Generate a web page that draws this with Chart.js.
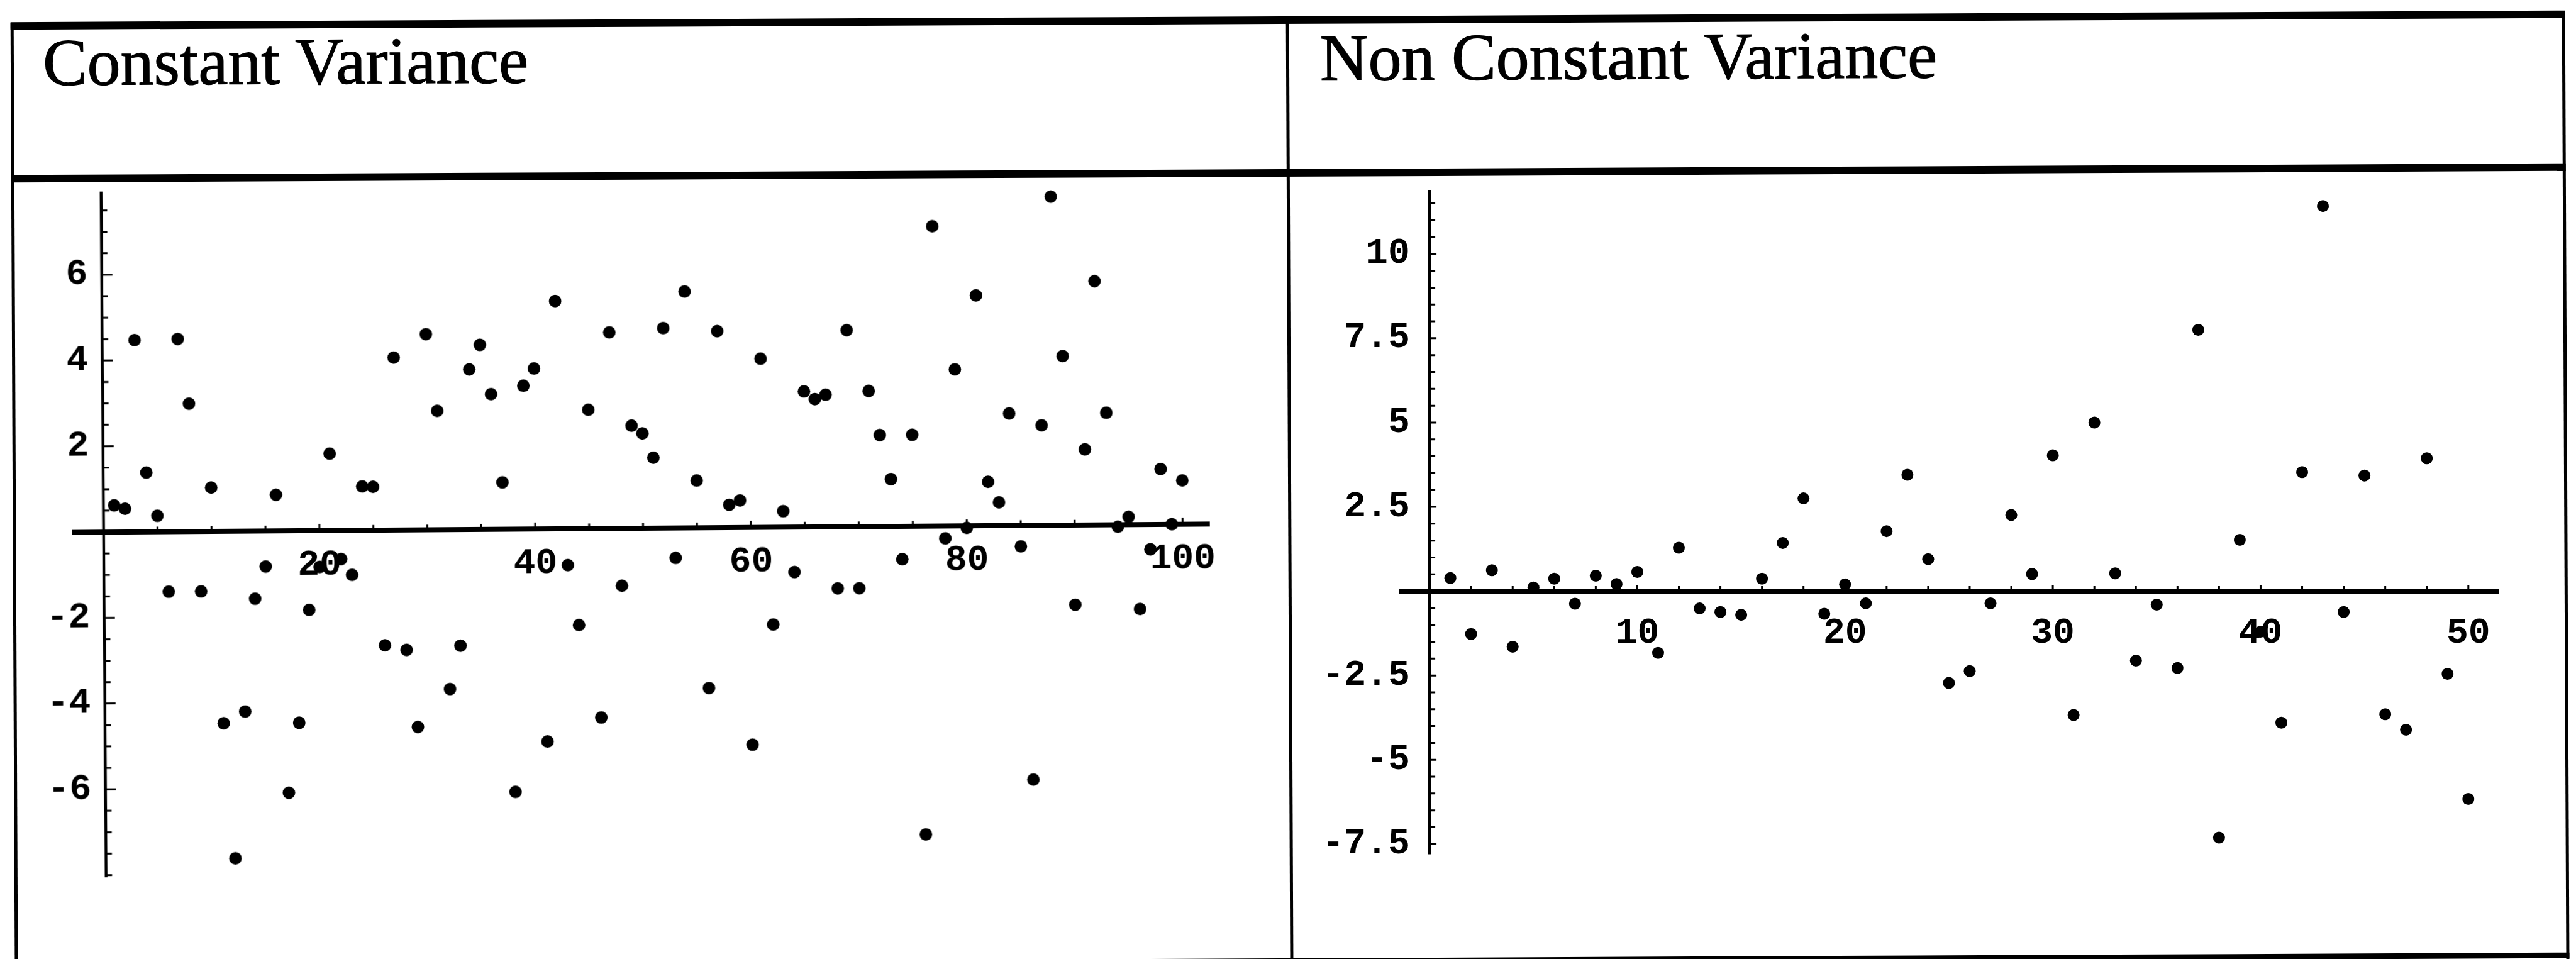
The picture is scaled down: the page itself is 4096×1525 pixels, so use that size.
<!DOCTYPE html>
<html>
<head>
<meta charset="utf-8">
<script src="https://cdn.jsdelivr.net/npm/chart.js@4/dist/chart.umd.min.js"></script>
<style>
  html, body { margin: 0; padding: 0; background: #fff; }
  body { width: 4096px; height: 1525px; position: relative; overflow: hidden; }
  #frame { position: absolute; left: 0; top: 0; width: 4096px; height: 1525px; transform: rotate(-0.26deg); }
  .rule { position: absolute; background: #000; }
  .title { position: absolute; font-family: "Liberation Serif", "Times New Roman", serif; font-size: 106px; line-height: 1; color: #000; white-space: nowrap; -webkit-text-stroke: 1.2px #000; }
  canvas { position: absolute; }
  #constChart { left: 0; top: 250px; transform: rotate(-0.42deg); }
  #nonConstChart { left: 2070px; top: 250px; }
</style>
</head>
<body>
<div id="frame">
  <div class="rule" style="left:20px; top:26px; width:4062px; height:12px"></div>
  <div class="rule" style="left:20px; top:269px; width:4062px; height:12px"></div>
  <div class="rule" style="left:20px; top:27px; width:5px; height:1510px"></div>
  <div class="rule" style="left:2048px; top:27px; width:5px; height:1510px"></div>
  <div class="rule" style="left:4077px; top:27px; width:5px; height:1510px"></div>
  <div class="rule" style="left:20px; top:1524px; width:4062px; height:9px"></div>
  <div class="title" style="left:71px; top:38px">Constant Variance</div>
  <div class="title" style="left:2102px; top:40px">Non Constant Variance</div>
</div>
<canvas id="constChart" width="2040" height="1250"></canvas>
<canvas id="nonConstChart" width="2010" height="1250"></canvas>
<script>
// residuals, observations 1..100
const constResiduals = [
  0.62, 0.54, 4.47, 1.38, 0.37, -1.40, 4.49, 2.98, -1.40, 1.02,
  -4.48, -7.63, -4.21, -1.58, -0.83, 0.84, -6.11, -4.48, -1.85, -0.85,
  1.79, -0.67, -1.04, 1.02, 1.01, -2.69, 4.02, -2.80, -4.60, 4.56,
  2.77, -3.72, -2.71, 3.73, 4.30, 3.15, 1.09, -6.13, 3.34, 3.74,
  -4.96, 5.31, -0.85, -2.25, 2.77, -4.41, 4.57, -1.34, 2.39, 2.21,
  1.64, 4.66, -0.70, 5.51, 1.10, -3.74, 4.58, 0.53, 0.63, -5.07,
  3.93, -2.27, 0.37, -1.05, 3.16, 2.98, 3.08, -1.44, 4.58, -1.44,
  3.16, 2.13, 1.10, -0.77, 2.13, -7.19, 6.99, -0.29, 3.65, -0.05,
  5.37, 1.02, 0.54, 2.61, -0.49, -5.93, 2.33, 7.66, 3.94, -1.86,
  1.76, 5.68, 2.61, -0.05, 0.18, -1.97, -0.58, 1.29, 0.00, 1.02
];
// residuals, observations 1..50 (spread grows)
const nonConstResiduals = [
  0.39, -1.27, 0.62, -1.65, 0.11, 0.37, -0.37, 0.46, 0.21, 0.57,
  -1.83, 1.29, -0.51, -0.62, -0.70, 0.37, 1.43, 2.75, -0.67, 0.20,
  -0.36, 1.78, 3.45, 0.95, -2.72, -2.37, -0.36, 2.26, 0.51, 4.03,
  -3.67, 5.00, 0.53, -2.06, -0.40, -2.28, 7.75, -7.31, 1.52, -1.20,
  -3.90, 3.53, 11.42, -0.62, 3.43, -3.65, -4.11, 3.94, -2.45, -6.16
];

const constXTicks = [20, 40, 60, 80, 100];
const constYTicks = [-6, -4, -2, 2, 4, 6];
const nonConstXTicks = [10, 20, 30, 40, 50];
const nonConstYTicks = [-7.5, -5, -2.5, 2.5, 5, 7.5, 10];

function steps(from, to, step) {
  const out = [];
  for (let v = from; v <= to + 1e-9; v += step) out.push(Math.round(v * 100) / 100);
  return out;
}

function toPoints(values) {
  return values.map((v, i) => ({x: i + 1, y: v}));
}

// vertical axis line at x = 0 plus small inward tick marks, mathematica style
// (the y scale itself sits a bit left of 0 so its labels keep a gap)
const axisTicks = {
  id: 'axisTicks',
  beforeDatasetsDraw(chart, args, opts) {
    const {ctx, scales: {x, y}} = chart;
    const x0 = x.getPixelForValue(0);
    const y0 = y.getPixelForValue(0);
    ctx.save();
    ctx.strokeStyle = '#000';
    ctx.lineWidth = opts.axisWidth;
    ctx.beginPath();
    ctx.moveTo(x0, y.getPixelForValue(y.max));
    ctx.lineTo(x0, y.getPixelForValue(y.min));
    ctx.stroke();

    ctx.lineWidth = opts.width;
    ctx.beginPath();
    opts.yMinor.forEach(v => {
      if (v === 0) return;
      const py = y.getPixelForValue(v);
      const len = opts.yMajor.includes(v) ? opts.yMajorLen : opts.yMinorLen;
      ctx.moveTo(x0, py);
      ctx.lineTo(x0 + len, py);
    });
    opts.xMinor.forEach(v => {
      if (v === 0) return;
      const px = x.getPixelForValue(v);
      const len = opts.xMajor.includes(v) ? opts.xMajorLen : opts.xMinorLen;
      ctx.moveTo(px, y0);
      ctx.lineTo(px, y0 - len);
    });
    ctx.stroke();
    ctx.restore();
  }
};

const tickFont = {family: 'Liberation Mono', weight: 'bold', size: 58, lineHeight: 1.2};

function makeChart(canvas, values, cfg) {
  return new Chart(canvas, {
    type: 'scatter',
    data: {
      datasets: [{
        data: toPoints(values),
        backgroundColor: '#000',
        borderColor: '#000',
        borderWidth: 0,
        pointRadius: cfg.radius,
        pointHoverRadius: cfg.radius
      }]
    },
    options: {
      responsive: false,
      animation: false,
      devicePixelRatio: 1,
      layout: {padding: cfg.padding},
      plugins: {
        legend: {display: false},
        tooltip: {enabled: false},
        axisTicks: cfg.marks
      },
      scales: {
        x: {
          type: 'linear',
          bounds: 'data',
          min: cfg.xMin,
          max: cfg.xMax,
          position: {y: 0},
          grid: {display: false, drawTicks: false},
          border: {display: true, color: '#000', width: 8},
          ticks: {
            color: '#000',
            font: tickFont,
            padding: cfg.xPad,
            autoSkip: false,
            maxRotation: 0,
            callback: v => String(v)
          },
          afterBuildTicks: s => { s.ticks = cfg.xTicks.map(v => ({value: v})); }
        },
        y: {
          type: 'linear',
          bounds: 'data',
          min: cfg.yMin,
          max: cfg.yMax,
          position: {x: cfg.yLabelAt},
          grid: {display: false, drawTicks: false},
          border: {display: false},
          ticks: {
            color: '#000',
            font: tickFont,
            autoSkip: false,
            callback: v => String(v)
          },
          afterBuildTicks: s => { s.ticks = cfg.yTicks.map(v => ({value: v})); }
        }
      }
    },
    plugins: [axisTicks]
  });
}

makeChart(document.getElementById('constChart'), constResiduals, {
  radius: 10,
  padding: {left: 118.6, right: 116.4, top: 48.4, bottom: 111.2},
  xMin: -2.7, xMax: 102.5, yMin: -8.05, yMax: 7.94,
  xTicks: constXTicks, yTicks: constYTicks,
  xPad: 21, yLabelAt: -1.3,
  marks: {
    axisWidth: 4.5, width: 3,
    yMajor: constYTicks, yMinor: steps(-8, 7.5, 0.5), yMajorLen: 17, yMinorLen: 9.5,
    xMajor: constXTicks, xMinor: steps(5, 100, 5), xMajorLen: 10, xMinorLen: 8
  }
});

makeChart(document.getElementById('nonConstChart'), nonConstResiduals, {
  radius: 9.5,
  padding: {left: 158.5, right: 107.3, top: 51.9, bottom: 141.6},
  xMin: -1.35, xMax: 51.45, yMin: -7.8, yMax: 11.9,
  xTicks: nonConstXTicks, yTicks: nonConstYTicks,
  xPad: 33, yLabelAt: -0.95,
  marks: {
    axisWidth: 5, width: 3,
    yMajor: nonConstYTicks, yMinor: steps(-7.5, 11.5, 0.5), yMajorLen: 11, yMinorLen: 9,
    xMajor: nonConstXTicks, xMinor: steps(2, 50, 2), xMajorLen: 10, xMinorLen: 8
  }
});
</script>
</body>
</html>
